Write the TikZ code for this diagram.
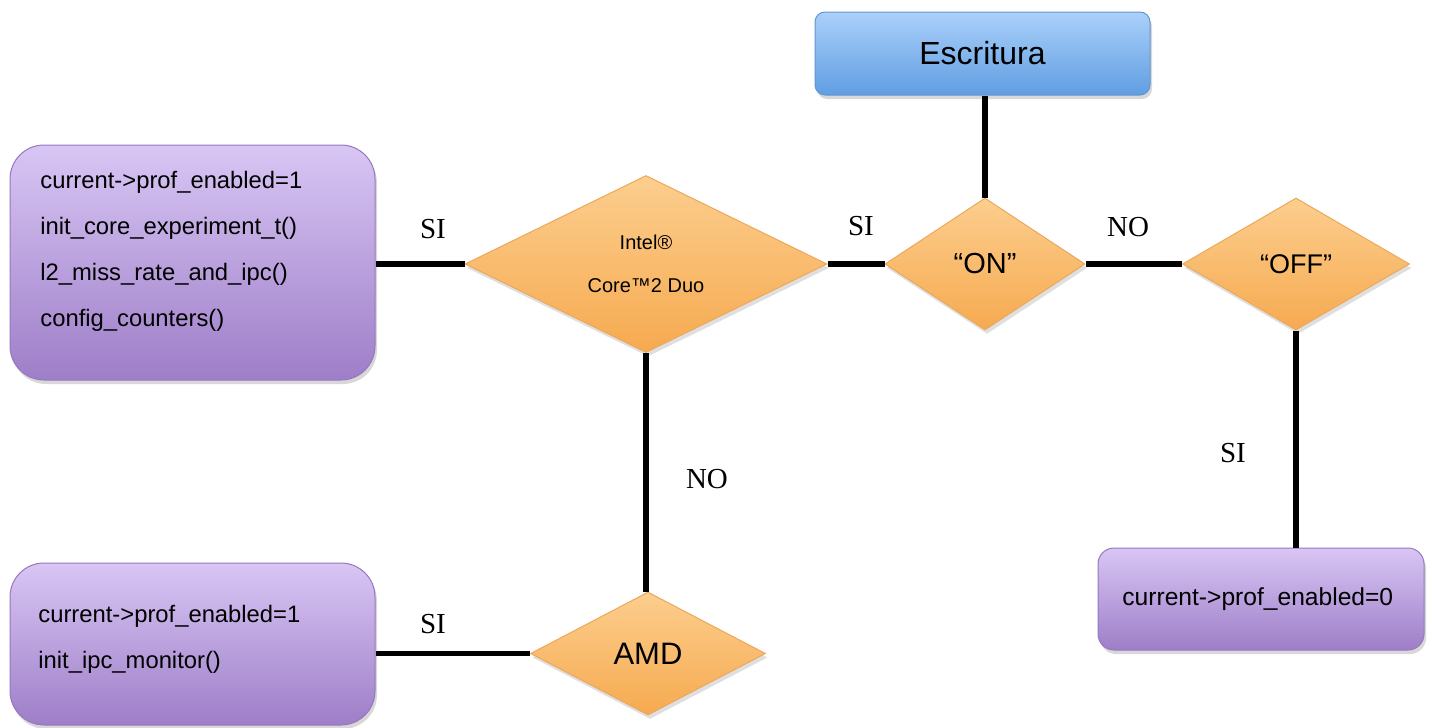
\documentclass[tikz,border=0pt]{standalone}
\usepackage{fontspec}
\setmainfont{Liberation Serif}
\setsansfont{Liberation Sans}
\usetikzlibrary{shapes.geometric,shadows}
\definecolor{purtop}{RGB}{216,198,244}
\definecolor{purbot}{RGB}{158,126,200}
\definecolor{purline}{RGB}{150,120,192}
\definecolor{ortop}{RGB}{252,206,142}
\definecolor{orbot}{RGB}{246,170,80}
\definecolor{orline}{RGB}{236,168,90}
\definecolor{bltop}{RGB}{170,208,250}
\definecolor{blbot}{RGB}{96,158,226}
\definecolor{blline}{RGB}{100,150,210}
\begin{document}
\begin{tikzpicture}[x=0.5pt,y=-0.5pt,
  pbox/.style={rectangle, rounded corners=17pt, top color=purtop, bottom color=purbot, draw=purline, line width=0.5pt, drop shadow={opacity=0.3, shadow xshift=1pt, shadow yshift=-2pt}},
  dia/.style={diamond, aspect=2, inner sep=0pt, top color=ortop, bottom color=orbot, draw=orline, line width=0.5pt, drop shadow={opacity=0.25, shadow xshift=1pt, shadow yshift=-2pt}, align=center, font=\sffamily},
  code/.style={anchor=west, align=left, inner sep=0pt, font=\sffamily\fontsize{11.9}{23}\selectfont},
  conn/.style={line width=2.6pt, black},
  lbl/.style={font=\rmfamily\fontsize{14.5}{16}\selectfont, inner sep=0pt}
]
\useasboundingbox (0,0) rectangle (1432,728);
\fill[white] (0,0) rectangle (1432,728);

% boxes
\node[pbox, minimum width=182.5pt, minimum height=117.5pt] (box1) at (192.5,262.5) {};
\node[code] (t1) at (40,251) {current->prof\_enabled=1\\init\_core\_experiment\_t()\\l2\_miss\_rate\_and\_ipc()\\config\_counters()};

\node[pbox, minimum width=182.5pt, minimum height=81pt] (box2) at (192.5,644) {};
\node[code] (t2) at (38,639) {current->prof\_enabled=1\\init\_ipc\_monitor()};

\node[pbox, rounded corners=8pt, minimum width=163pt, minimum height=51pt] (box3) at (1261,599) {};
\node[code, font=\sffamily\fontsize{12.3}{14}\selectfont] (t3) at (1122,599) {current->prof\_enabled=0};

\node[rectangle, rounded corners=5pt, top color=bltop, bottom color=blbot, draw=blline, line width=0.5pt, drop shadow={opacity=0.3, shadow xshift=1pt, shadow yshift=-2pt}, minimum width=167.5pt, minimum height=41.5pt, font=\sffamily\fontsize{16}{18}\selectfont] (esc) at (982.5,53.5) {Escritura};

% diamonds
\node[dia, minimum width=181pt, minimum height=88.5pt, font=\sffamily\fontsize{10}{21.5}\selectfont] (intel) at (646,264) {Intel®\\Core™2 Duo};
\node[dia, minimum width=100pt, minimum height=66pt, font=\sffamily\fontsize{14.5}{16}\selectfont] (on) at (985,264) {“ON”};
\node[dia, minimum width=113.5pt, minimum height=66pt, font=\sffamily\fontsize{13.5}{16}\selectfont] (off) at (1296,264) {“OFF”};
\node[dia, minimum width=117.5pt, minimum height=61.5pt, font=\sffamily\fontsize{15.5}{18}\selectfont] (amd) at (648,653.5) {AMD};

% connectors
\draw[conn] (intel.west) -- (intel.west -| box1.east);
\draw[conn] (intel.east) -- (on.west);
\draw[conn] (on.north) -- (on.north |- esc.south);
\draw[conn] (on.east) -- (off.west);
\draw[conn] (off.south) -- (off.south |- box3.north);
\draw[conn] (intel.south) -- (intel.south |- amd.north);
\draw[conn] (amd.west) -- (amd.west -| box2.east);

% labels
\node[lbl] (l1) at (433,229) {SI};
\node[lbl] (l2) at (861,226) {SI};
\node[lbl] (l3) at (1128,227) {NO};
\node[lbl] (l4) at (1233,453) {SI};
\node[lbl] (l5) at (707,479) {NO};
\node[lbl] (l6) at (433,624) {SI};
\end{tikzpicture}
\end{document}
